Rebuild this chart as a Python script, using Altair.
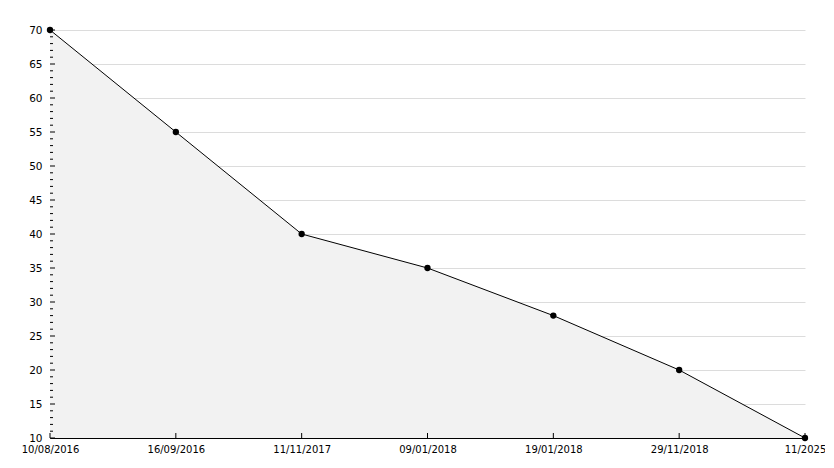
import altair as alt
import pandas as pd

dates = ["10/08/2016", "16/09/2016", "11/11/2017", "09/01/2018",
         "19/01/2018", "29/11/2018", "11/2025"]
values = [70, 55, 40, 35, 28, 20, 10]
y_major = list(range(10, 71, 5))
y_minor = [v for v in range(10, 71) if v % 5 != 0]

df = pd.DataFrame({"date": dates, "value": values})
df_major = pd.DataFrame({"t": y_major})
df_minor = pd.DataFrame({"t": y_minor})
df_x = pd.DataFrame({"date": dates})

W, H = 755, 408

x_scale = alt.Scale(type="point", padding=0)
y_scale = alt.Scale(domain=[10, 70], zero=False, nice=False)

x_axis = alt.Axis(title=None, labelAngle=0, ticks=False, grid=False,
                  domainColor="black", labelColor="black",
                  labelFont="DejaVu Sans", labelFontSize=10, labelPadding=6)
y_axis = alt.Axis(title=None, values=y_major, ticks=False, grid=True,
                  gridColor="#dcdcdc", gridWidth=1,
                  domainColor="black", labelColor="black",
                  labelFont="DejaVu Sans", labelFontSize=10.5, labelPadding=8)

X = alt.X("date:N", sort=dates, scale=x_scale, axis=x_axis)

area = alt.Chart(df).mark_area(color="#f2f2f2", opacity=1).encode(
    x=X,
    y=alt.Y("value:Q", scale=y_scale, axis=y_axis),
    y2=alt.datum(10),
)
line = alt.Chart(df).mark_line(color="black", strokeWidth=1).encode(
    x=X,
    y=alt.Y("value:Q", scale=y_scale, axis=y_axis),
)
pts = alt.Chart(df).mark_point(filled=True, color="black", size=40, opacity=1).encode(
    x=X,
    y=alt.Y("value:Q", scale=y_scale, axis=y_axis),
)
minor = alt.Chart(df_minor).mark_rule(color="black", strokeWidth=1).encode(
    y=alt.Y("t:Q", scale=y_scale, axis=y_axis),
    x=alt.value(0),
    x2=alt.value(3),
)
major = alt.Chart(df_major).mark_rule(color="black", strokeWidth=1).encode(
    y=alt.Y("t:Q", scale=y_scale, axis=y_axis),
    x=alt.value(0),
    x2=alt.value(5),
)
xticks = alt.Chart(df_x).mark_rule(color="black", strokeWidth=1).encode(
    x=X,
    y=alt.value(H - 5),
    y2=alt.value(H),
)

chart = alt.layer(area, minor, major, xticks, line, pts).properties(
    width=W, height=H,
    background="white",
    autosize=alt.AutoSizeParams(type="none"),
    padding={"left": 42, "top": 22, "right": 20, "bottom": 20},
).configure_view(strokeWidth=0, stroke="transparent")

chart.save("out.html", embed_options={"renderer": "svg", "actions": False})
